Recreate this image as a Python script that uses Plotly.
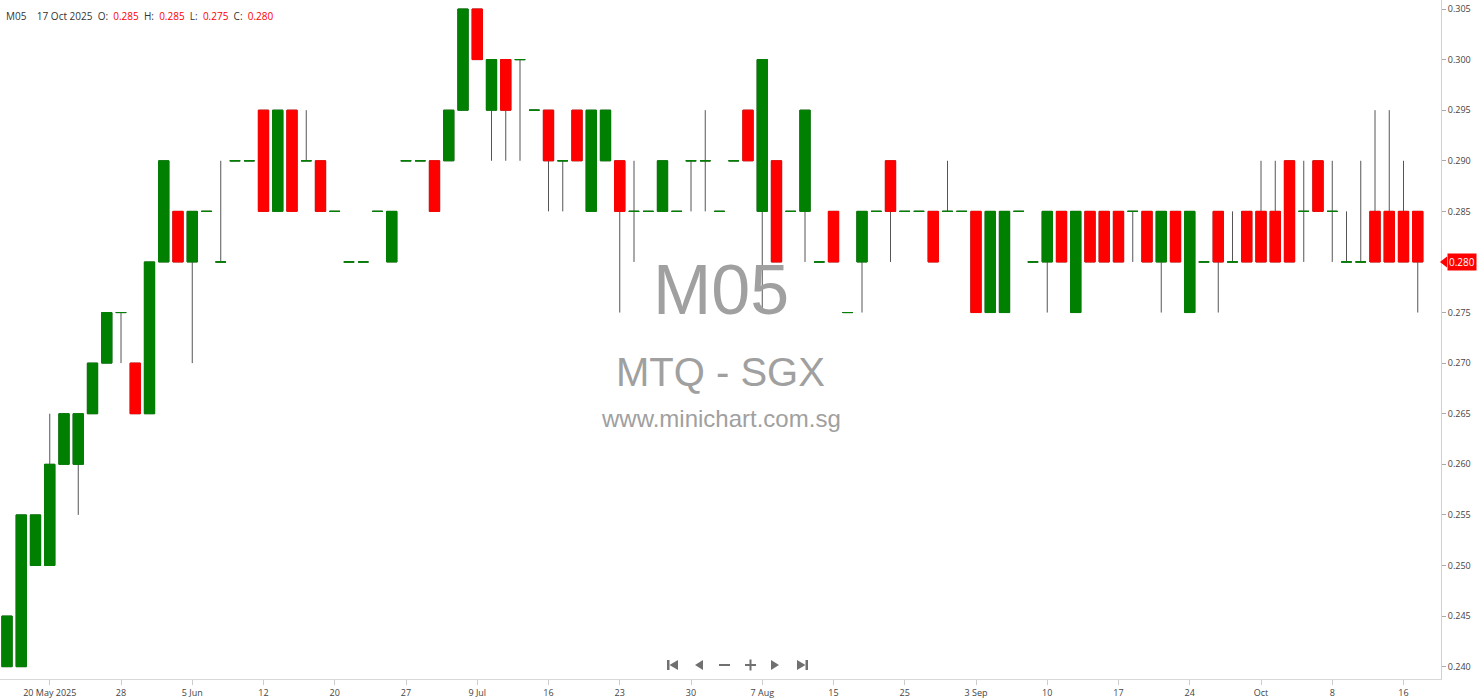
import plotly.graph_objects as go

# ---------------- data ----------------
dates = [
    "2025-05-15", "2025-05-16", "2025-05-19", "2025-05-20", "2025-05-21", "2025-05-22", "2025-05-26", "2025-05-27",
    "2025-05-28", "2025-05-29", "2025-05-30", "2025-06-02", "2025-06-04", "2025-06-05", "2025-06-06", "2025-06-09",
    "2025-06-10", "2025-06-11", "2025-06-12", "2025-06-13", "2025-06-16", "2025-06-17", "2025-06-19", "2025-06-20",
    "2025-06-23", "2025-06-24", "2025-06-25", "2025-06-26", "2025-06-27", "2025-06-30", "2025-07-02", "2025-07-03",
    "2025-07-08", "2025-07-09", "2025-07-10", "2025-07-11", "2025-07-14", "2025-07-15", "2025-07-16", "2025-07-17",
    "2025-07-18", "2025-07-21", "2025-07-22", "2025-07-23", "2025-07-24", "2025-07-25", "2025-07-28", "2025-07-29",
    "2025-07-30", "2025-07-31", "2025-08-01", "2025-08-04", "2025-08-06", "2025-08-07", "2025-08-08", "2025-08-11",
    "2025-08-12", "2025-08-14", "2025-08-15", "2025-08-18", "2025-08-19", "2025-08-20", "2025-08-22", "2025-08-25",
    "2025-08-26", "2025-08-27", "2025-08-29", "2025-09-02", "2025-09-03", "2025-09-04", "2025-09-05", "2025-09-08",
    "2025-09-09", "2025-09-10", "2025-09-11", "2025-09-12", "2025-09-15", "2025-09-16", "2025-09-17", "2025-09-18",
    "2025-09-19", "2025-09-22", "2025-09-23", "2025-09-24", "2025-09-25", "2025-09-26", "2025-09-29", "2025-09-30",
    "2025-10-01", "2025-10-02", "2025-10-03", "2025-10-06", "2025-10-07", "2025-10-08", "2025-10-09", "2025-10-10",
    "2025-10-13", "2025-10-14", "2025-10-16", "2025-10-17",
]

opens = [
    0.240, 0.240, 0.250, 0.250, 0.260, 0.260, 0.265, 0.270, 0.275, 0.270,
    0.265, 0.280, 0.285, 0.280, 0.285, 0.280, 0.290, 0.290, 0.295, 0.285,
    0.295, 0.290, 0.290, 0.285, 0.280, 0.280, 0.285, 0.280, 0.290, 0.290,
    0.290, 0.290, 0.295, 0.305, 0.295, 0.300, 0.300, 0.295, 0.295, 0.290,
    0.295, 0.285, 0.290, 0.290, 0.285, 0.285, 0.285, 0.285, 0.290, 0.290,
    0.285, 0.290, 0.295, 0.285, 0.290, 0.285, 0.285, 0.280, 0.285, 0.275,
    0.280, 0.285, 0.290, 0.285, 0.285, 0.285, 0.285, 0.285, 0.285, 0.275,
    0.275, 0.285, 0.280, 0.280, 0.285, 0.275, 0.285, 0.285, 0.285, 0.285,
    0.285, 0.280, 0.285, 0.275, 0.280, 0.285, 0.280, 0.285, 0.285, 0.285,
    0.290, 0.285, 0.290, 0.285, 0.280, 0.280, 0.285, 0.285, 0.285, 0.285,
]

highs = [
    0.245, 0.255, 0.255, 0.265, 0.265, 0.265, 0.270, 0.275, 0.275, 0.270,
    0.280, 0.290, 0.285, 0.285, 0.285, 0.290, 0.290, 0.290, 0.295, 0.295,
    0.295, 0.295, 0.290, 0.285, 0.280, 0.280, 0.285, 0.285, 0.290, 0.290,
    0.290, 0.295, 0.305, 0.305, 0.300, 0.300, 0.300, 0.295, 0.295, 0.290,
    0.295, 0.295, 0.295, 0.290, 0.290, 0.285, 0.290, 0.285, 0.290, 0.295,
    0.285, 0.290, 0.295, 0.300, 0.290, 0.285, 0.295, 0.280, 0.285, 0.275,
    0.285, 0.285, 0.290, 0.285, 0.285, 0.285, 0.290, 0.285, 0.285, 0.285,
    0.285, 0.285, 0.280, 0.285, 0.285, 0.285, 0.285, 0.285, 0.285, 0.285,
    0.285, 0.285, 0.285, 0.285, 0.280, 0.285, 0.285, 0.285, 0.290, 0.290,
    0.290, 0.290, 0.290, 0.290, 0.285, 0.290, 0.295, 0.295, 0.290, 0.285,
]

lows = [
    0.240, 0.240, 0.250, 0.250, 0.260, 0.255, 0.265, 0.270, 0.270, 0.265,
    0.265, 0.280, 0.280, 0.270, 0.285, 0.280, 0.290, 0.290, 0.285, 0.285,
    0.285, 0.290, 0.285, 0.285, 0.280, 0.280, 0.285, 0.280, 0.290, 0.290,
    0.285, 0.290, 0.295, 0.300, 0.290, 0.290, 0.290, 0.295, 0.285, 0.285,
    0.290, 0.285, 0.290, 0.275, 0.280, 0.285, 0.285, 0.285, 0.285, 0.285,
    0.285, 0.290, 0.290, 0.275, 0.280, 0.285, 0.280, 0.280, 0.280, 0.275,
    0.275, 0.285, 0.280, 0.285, 0.285, 0.280, 0.285, 0.285, 0.275, 0.275,
    0.275, 0.285, 0.280, 0.275, 0.280, 0.275, 0.280, 0.280, 0.280, 0.280,
    0.280, 0.275, 0.280, 0.275, 0.280, 0.275, 0.280, 0.280, 0.280, 0.280,
    0.280, 0.280, 0.285, 0.280, 0.280, 0.280, 0.280, 0.280, 0.280, 0.275,
]

closes = [
    0.245, 0.255, 0.255, 0.260, 0.265, 0.265, 0.270, 0.275, 0.275, 0.265,
    0.280, 0.290, 0.280, 0.285, 0.285, 0.280, 0.290, 0.290, 0.285, 0.295,
    0.285, 0.290, 0.285, 0.285, 0.280, 0.280, 0.285, 0.285, 0.290, 0.290,
    0.285, 0.295, 0.305, 0.300, 0.300, 0.295, 0.300, 0.295, 0.290, 0.290,
    0.290, 0.295, 0.295, 0.285, 0.285, 0.285, 0.290, 0.285, 0.290, 0.290,
    0.285, 0.290, 0.290, 0.300, 0.280, 0.285, 0.295, 0.280, 0.280, 0.275,
    0.285, 0.285, 0.285, 0.285, 0.285, 0.280, 0.285, 0.285, 0.275, 0.285,
    0.285, 0.285, 0.280, 0.285, 0.280, 0.285, 0.280, 0.280, 0.280, 0.285,
    0.280, 0.285, 0.280, 0.285, 0.280, 0.280, 0.280, 0.280, 0.280, 0.280,
    0.280, 0.285, 0.285, 0.285, 0.280, 0.280, 0.280, 0.280, 0.280, 0.280,
]

tick_dates = ["2025-05-20", "2025-05-28", "2025-06-05", "2025-06-12", "2025-06-20", "2025-06-27",
              "2025-07-09", "2025-07-16", "2025-07-23", "2025-07-30", "2025-08-07", "2025-08-15",
              "2025-08-25", "2025-09-03", "2025-09-10", "2025-09-17", "2025-09-24", "2025-10-01",
              "2025-10-08", "2025-10-16"]
tick_text = ["20 May 2025", "28", "5 Jun", "12", "20", "27", "9 Jul", "16", "23", "30", "7 Aug",
             "15", "25", "3 Sep", "10", "17", "24", "Oct", "8", "16"]

price_ticks = [0.240, 0.245, 0.250, 0.255, 0.260, 0.265, 0.270, 0.275, 0.280, 0.285,
               0.290, 0.295, 0.300, 0.305]

symbol = "M05"
subtitle = "MTQ - SGX"
site = "www.minichart.com.sg"
last_date_label = "17 Oct 2025"

# ---------------- styling ----------------
GREEN = "#008000"
RED = "#ff0000"
WICK = "#555555"
W, H = 1480, 699
ML, MR, MT, MB = 0, 39, 0, 20
PW, PH = W - ML - MR, H - MT - MB

fig = go.Figure()
# wicks (grey), full range high-low
fig.add_trace(go.Candlestick(
    x=dates, open=opens, high=highs, low=lows, close=closes,
    increasing=dict(line=dict(color=WICK, width=1), fillcolor=WICK),
    decreasing=dict(line=dict(color=WICK, width=1), fillcolor=WICK),
    whiskerwidth=0, showlegend=False, hoverinfo="skip",
))

# bodies: up (close >= open, incl. unchanged) in green, down in red
for is_up, col in ((True, GREEN), (False, RED)):
    idx = [i for i in range(len(dates)) if (closes[i] >= opens[i]) == is_up]
    fig.add_trace(go.Candlestick(
        x=[dates[i] for i in idx],
        open=[opens[i] for i in idx],
        close=[closes[i] for i in idx],
        high=[max(opens[i], closes[i]) for i in idx],
        low=[min(opens[i], closes[i]) for i in idx],
        increasing=dict(line=dict(color=col, width=1), fillcolor=col),
        decreasing=dict(line=dict(color=col, width=1), fillcolor=col),
        whiskerwidth=0, showlegend=False,
    ))


def px_x(p):
    return (p - ML) / PW


def px_y(p):
    return 1 - (p - MT) / PH


annotations = []
# watermark
annotations.append(dict(text=symbol, xref="paper", yref="paper", x=0.5, y=px_y(290), showarrow=False,
                        font=dict(family="Liberation Sans, Arial", size=70, color="#a0a0a0"),
                        xanchor="center", yanchor="middle"))
annotations.append(dict(text=subtitle, xref="paper", yref="paper", x=0.5, y=px_y(372), showarrow=False,
                        font=dict(family="Liberation Sans, Arial", size=40, color="#a0a0a0"),
                        xanchor="center", yanchor="middle"))
annotations.append(dict(text=site, xref="paper", yref="paper", x=0.5, y=px_y(418), showarrow=False,
                        font=dict(family="Liberation Sans, Arial", size=24, color="#a0a0a0"),
                        xanchor="center", yanchor="middle"))

# top-left info line
nb = "\u00a0"
last = len(dates) - 1
info = (f"{symbol}{nb*4}{last_date_label}{nb*2}O:{nb*2}<span style='color:{RED}'>{opens[last]:.3f}</span>{nb*2}"
        f"H:{nb*2}<span style='color:{RED}'>{highs[last]:.3f}</span>{nb*2}"
        f"L:{nb*2}<span style='color:{RED}'>{lows[last]:.3f}</span>{nb*2}"
        f"C:{nb*2}<span style='color:{RED}'>{closes[last]:.3f}</span>")
annotations.append(dict(text=info, xref="paper", yref="paper", x=px_x(4), y=px_y(16), showarrow=False,
                        font=dict(family="Open Sans", size=10, color="#333333"),
                        xanchor="left", yanchor="middle"))

# last price tag
annotations.append(dict(text=f"{closes[last]:.3f}", xref="paper", yref="y", x=1, y=closes[last],
                        xshift=6, showarrow=False, xanchor="left", yanchor="middle",
                        font=dict(family="Open Sans", size=10, color="white"),
                        bgcolor=RED, borderpad=1))

shapes = []
# arrow of price tag
dy = 0.00055
shapes.append(dict(type="path", xref="paper", yref="y",
                   path=f"M {px_x(1440)} {closes[last]} L {px_x(1447)} {closes[last]+dy} "
                        f"L {px_x(1447)} {closes[last]-dy} Z",
                   fillcolor=RED, line=dict(width=0)))

# navigation icons
NAV = "#707070"
cy = 665


def tri(x0, x1, left):
    tip, base = (x0, x1) if left else (x1, x0)
    return f"M {px_x(tip)} {px_y(cy)} L {px_x(base)} {px_y(cy-5)} L {px_x(base)} {px_y(cy+5)} Z"


def rect(x0, x1, y0, y1):
    return dict(type="rect", xref="paper", yref="paper", x0=px_x(x0), x1=px_x(x1),
                y0=px_y(y1), y1=px_y(y0), fillcolor=NAV, line=dict(width=0))


shapes.append(rect(667, 669.5, cy - 5, cy + 5))
shapes.append(dict(type="path", xref="paper", yref="paper", path=tri(669.5, 678, True), fillcolor=NAV, line=dict(width=0)))
shapes.append(dict(type="path", xref="paper", yref="paper", path=tri(695, 703, True), fillcolor=NAV, line=dict(width=0)))
shapes.append(rect(719, 730, cy - 1, cy + 1))
shapes.append(rect(745, 756, cy - 1, cy + 1))
shapes.append(rect(749.5, 751.5, cy - 5.5, cy + 5.5))
shapes.append(dict(type="path", xref="paper", yref="paper", path=tri(771, 779, False), fillcolor=NAV, line=dict(width=0)))
shapes.append(dict(type="path", xref="paper", yref="paper", path=tri(797, 805.5, False), fillcolor=NAV, line=dict(width=0)))
shapes.append(rect(805.5, 808, cy - 5, cy + 5))

step = 14.25
x_lo = -7 / step
x_hi = x_lo + PW / step

ytickvals = [v for v in price_ticks if abs(v - closes[last]) > 1e-9]

fig.update_layout(
    width=W, height=H,
    margin=dict(l=ML, r=MR, t=MT, b=MB, pad=0),
    paper_bgcolor="white", plot_bgcolor="white",
    boxgap=0.15, boxgroupgap=0.15,
    annotations=annotations, shapes=shapes,
    showlegend=False,
    xaxis=dict(type="category", range=[x_lo, x_hi], rangeslider=dict(visible=False),
               categoryorder="array", categoryarray=dates,
               tickmode="array", tickvals=tick_dates, ticktext=tick_text,
               showgrid=False, zeroline=False, showline=True, linecolor="#d8d8d8", linewidth=1,
               ticks="outside", ticklen=5, tickcolor="#cccccc", automargin=False,
               tickfont=dict(family="Open Sans", size=9, color="#444444")),
    yaxis=dict(side="right", range=[0.23878, 0.30589], tickmode="array", tickvals=ytickvals,
               tickformat=".3f", automargin=False,
               showgrid=False, zeroline=False, showline=True, linecolor="#d0d0d0", linewidth=1,
               ticks="outside", ticklen=4, tickcolor="#aaaaaa",
               tickfont=dict(family="Open Sans", size=9, color="#444444")),
    hovermode=False,
)

fig.write_html("out.html", config={"displayModeBar": False},
               post_script="document.body.style.margin='0';document.body.style.overflow='hidden';")
